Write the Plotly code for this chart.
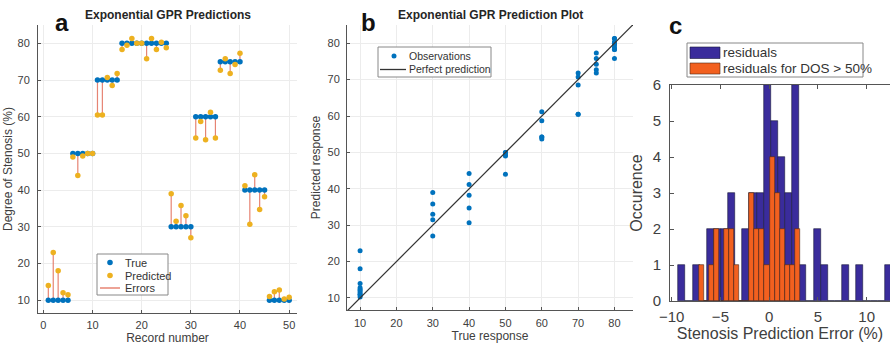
import numpy as np
import plotly.graph_objects as go

# ---------------- data ----------------
record_number = list(range(1, 51))
true_dos = [10, 10, 10, 10, 10,
            50, 50, 50, 50, 50,
            70, 70, 70, 70, 70,
            80, 80, 80, 80, 80, 80, 80, 80, 80, 80,
            30, 30, 30, 30, 30,
            60, 60, 60, 60, 60,
            75, 75, 75, 75, 75,
            40, 40, 40, 40, 40,
            10, 10, 10, 10, 10]
predicted_dos = [14, 23, 18, 12, 11.5,
                 49, 44, 49.3, 50, 50,
                 60.5, 60.5, 70.7, 68.5, 71.8,
                 78.3, 79.5, 81.3, 80, 80, 75.8, 81.3, 78.3, 80.3, 78.8,
                 39, 31.5, 35.8, 33, 27,
                 54.2, 58.7, 53.7, 61.2, 54.2,
                 72.7, 75.8, 71.8, 74.2, 77.3,
                 41.2, 30.7, 44.2, 34.7, 38.2,
                 11, 12.3, 12.8, 10.3, 10.8]

# histogram of residuals (all records)
resid_first_edge = -9.32
resid_bin_width = 0.73
resid_counts = [1, 0, 1, 0, 2, 2, 2, 3, 0, 2, 3, 3, 6, 5, 4, 3, 6, 1, 0, 2,
                1, 0, 0, 1, 0, 1, 0, 0, 0, 1]
# histogram of residuals for DOS > 50%
high_first_edge = -7.24
high_bin_width = 0.52
high_counts = [1, 0, 1, 2, 0, 2, 2, 1, 0, 0, 3, 2, 2, 1, 4, 3, 2, 1, 1, 2]

ticks_a_x = [0, 10, 20, 30, 40, 50]
ticks_ab_y = [10, 20, 30, 40, 50, 60, 70, 80]
ticks_b_x = [10, 20, 30, 40, 50, 60, 70, 80]
ticks_c_x = [-10, -5, 0, 5, 10]
ticks_c_y = [0, 1, 2, 3, 4, 5, 6]

# ---------------- styling ----------------
W, H = 890, 347
FONT = "Liberation Sans, Arial, Helvetica, sans-serif"
BLUE = "#0072BD"
ORANGE = "#EDB120"
ERR = "rgba(226,110,90,0.85)"
HIST_BLUE = "#3a2c9c"
HIST_ORANGE = "#f2601f"
TXT = "#404040"
GRID = "#ececec"
LEG_TXT = "#333333"


def px(x):
    return x / W


def py(y):
    return 1 - y / H


fig = go.Figure()

# ----- panel a: stem-style errors, true and predicted values -----
err_x, err_y = [], []
for r, t, p in zip(record_number, true_dos, predicted_dos):
    err_x += [r, r, None]
    err_y += [t, p, None]

fig.add_trace(go.Scatter(x=err_x, y=err_y, mode="lines", name="Errors",
                         line=dict(color=ERR, width=1.2), showlegend=False,
                         xaxis="x", yaxis="y"))
fig.add_trace(go.Scatter(x=record_number, y=true_dos, mode="markers", name="True",
                         marker=dict(color=BLUE, size=5.5), showlegend=False,
                         xaxis="x", yaxis="y"))
fig.add_trace(go.Scatter(x=record_number, y=predicted_dos, mode="markers",
                         name="Predicted", marker=dict(color=ORANGE, size=5.5),
                         showlegend=False, xaxis="x", yaxis="y"))

# ----- panel b: predicted vs true -----
fig.add_trace(go.Scatter(x=true_dos, y=predicted_dos, mode="markers",
                         name="Observations", marker=dict(color=BLUE, size=5),
                         showlegend=False, xaxis="x2", yaxis="y2"))
line_ends = [6.4, 86.5]
fig.add_trace(go.Scatter(x=line_ends, y=line_ends, mode="lines",
                         name="Perfect prediction",
                         line=dict(color="#333333", width=1.2),
                         showlegend=False, xaxis="x2", yaxis="y2", cliponaxis=False))

# ----- panel c: residual histograms -----
resid_centers = resid_first_edge + resid_bin_width * (np.arange(len(resid_counts)) + 0.5)
high_centers = high_first_edge + high_bin_width * (np.arange(len(high_counts)) + 0.5)
fig.add_trace(go.Bar(x=resid_centers, y=resid_counts, width=resid_bin_width,
                     name="residuals",
                     marker=dict(color=HIST_BLUE, line=dict(color="#1a1a3a", width=0.6)),
                     showlegend=False, xaxis="x3", yaxis="y3"))
fig.add_trace(go.Bar(x=high_centers, y=high_counts, width=high_bin_width,
                     name="residuals for DOS > 50%",
                     marker=dict(color=HIST_ORANGE, line=dict(color="#4a2a1a", width=0.6)),
                     showlegend=False, xaxis="x3", yaxis="y3"))

axis_common = dict(showline=True, linecolor="#555555", linewidth=1,
                   ticks="inside", ticklen=3, tickcolor="#555555",
                   tickfont=dict(family=FONT, size=11, color=TXT),
                   zeroline=False, showgrid=True, gridcolor=GRID, gridwidth=1,
                   automargin=False)

fig.update_layout(
    width=W, height=H, margin=dict(l=0, r=0, t=0, b=0),
    paper_bgcolor="white", plot_bgcolor="white",
    barmode="overlay", bargap=0, showlegend=False,
    font=dict(family=FONT, color=TXT),
    xaxis=dict(domain=[px(38), px(297)], range=[-1.1, 51.6], tickvals=ticks_a_x,
               anchor="y", ticklabelstandoff=2,
               title=dict(text="Record number", standoff=3,
                          font=dict(size=12, color=TXT)),
               **axis_common),
    yaxis=dict(domain=[py(313), py(25)], range=[6.5, 85], tickvals=ticks_ab_y,
               anchor="x", ticklabelstandoff=5,
               title=dict(text="Degree of Stenosis (%)", standoff=2,
                          font=dict(size=12, color=TXT)),
               **axis_common),
    xaxis2=dict(domain=[px(347), px(633)], range=[6.4, 85.1], tickvals=ticks_b_x,
                anchor="y2", ticklabelstandoff=3,
                title=dict(text="True response", standoff=3,
                           font=dict(size=12, color=TXT)),
                **axis_common),
    yaxis2=dict(domain=[py(310), py(25)], range=[6.7, 85], tickvals=ticks_ab_y,
                anchor="x2", ticklabelstandoff=4,
                title=dict(text="Predicted response", standoff=4,
                           font=dict(size=12, color=TXT)),
                **axis_common),
    xaxis3=dict(domain=[px(670), 1.0], range=[-10.17, 12.39], tickvals=ticks_c_x,
                anchor="y3", showline=True, linecolor="#555555", linewidth=1,
                mirror="ticks", ticks="inside", ticklen=4, tickcolor="#555555",
                showgrid=False, zeroline=False, automargin=False,
                ticklabelstandoff=2,
                tickfont=dict(family=FONT, size=15, color=TXT),
                title=dict(text="Stenosis Prediction Error (%)", standoff=1,
                           font=dict(size=16, color=TXT))),
    yaxis3=dict(domain=[py(301), py(85)], range=[0, 6], tickvals=ticks_c_y,
                anchor="x3", showline=True, linecolor="#555555", linewidth=1,
                ticks="inside", ticklen=4, tickcolor="#555555",
                showgrid=False, zeroline=False, automargin=False,
                ticklabelstandoff=5,
                tickfont=dict(family=FONT, size=15, color=TXT),
                title=dict(text="Occurence", standoff=6,
                           font=dict(size=16, color=TXT))),
)

annotations = [
    dict(text="<b>Exponential GPR Predictions</b>", x=px(168), y=py(15),
         font=dict(size=12, color="#262626")),
    dict(text="<b>Exponential GPR Prediction Plot</b>", x=px(490), y=py(15),
         font=dict(size=12, color="#262626")),
    dict(text="<b>a</b>", x=px(62), y=py(22), font=dict(size=24, color="#111111")),
    dict(text="<b>b</b>", x=px(368), y=py(22), font=dict(size=24, color="#111111")),
    dict(text="<b>c</b>", x=px(675), y=py(25), font=dict(size=24, color="#111111")),
    # legend texts, panel a
    dict(text="True", x=px(123), y=py(262.5), xanchor="left",
         font=dict(size=11, color=LEG_TXT)),
    dict(text="Predicted", x=px(123), y=py(275.5), xanchor="left",
         font=dict(size=11, color=LEG_TXT)),
    dict(text="Errors", x=px(123), y=py(288), xanchor="left",
         font=dict(size=11, color=LEG_TXT)),
    # legend texts, panel b
    dict(text="Observations", x=px(407), y=py(56), xanchor="left",
         font=dict(size=10.5, color=LEG_TXT)),
    dict(text="Perfect prediction", x=px(407), y=py(69.5), xanchor="left",
         font=dict(size=10.5, color=LEG_TXT)),
    # legend texts, panel c
    dict(text="residuals", x=px(721), y=py(52.5), xanchor="left",
         font=dict(size=13.5, color=LEG_TXT)),
    dict(text="residuals for DOS > 50%", x=px(721), y=py(68.5), xanchor="left",
         font=dict(size=13.5, color=LEG_TXT)),
]
for a in annotations:
    a.setdefault("xanchor", "center")
    a.update(xref="paper", yref="paper", yanchor="middle", showarrow=False)
    a["font"]["family"] = FONT
fig.update_layout(annotations=annotations)


def dot(cx, cy, color, r=2.8):
    return dict(type="circle", xref="paper", yref="paper",
                x0=px(cx - r), x1=px(cx + r), y0=py(cy + r), y1=py(cy - r),
                fillcolor=color, line=dict(width=0))


def box(x0, y0, x1, y1, fill="white", edge="#888888", width=1):
    return dict(type="rect", xref="paper", yref="paper", x0=px(x0), x1=px(x1),
                y0=py(y1), y1=py(y0), line=dict(color=edge, width=width),
                fillcolor=fill)


def seg(x0, x1, y, color, width):
    return dict(type="line", xref="paper", yref="paper", x0=px(x0), x1=px(x1),
                y0=py(y), y1=py(y), line=dict(color=color, width=width))


fig.update_layout(shapes=[
    # panel a legend
    box(97, 254, 168, 295),
    dot(110, 262.5, BLUE),
    dot(110, 275.5, ORANGE),
    seg(100, 120, 288, ERR, 1.5),
    # panel b legend
    box(378, 47, 491, 77),
    dot(394, 56, BLUE, 2.5),
    seg(380, 406, 69.5, "#333333", 1.3),
    # panel c legend
    box(687, 43, 863, 77),
    box(690, 47, 720, 58.5, HIST_BLUE, "#1a1a3a", 0.6),
    box(690, 63, 720, 74, HIST_ORANGE, "#4a2a1a", 0.6),
])

fig.write_html("out.html")
